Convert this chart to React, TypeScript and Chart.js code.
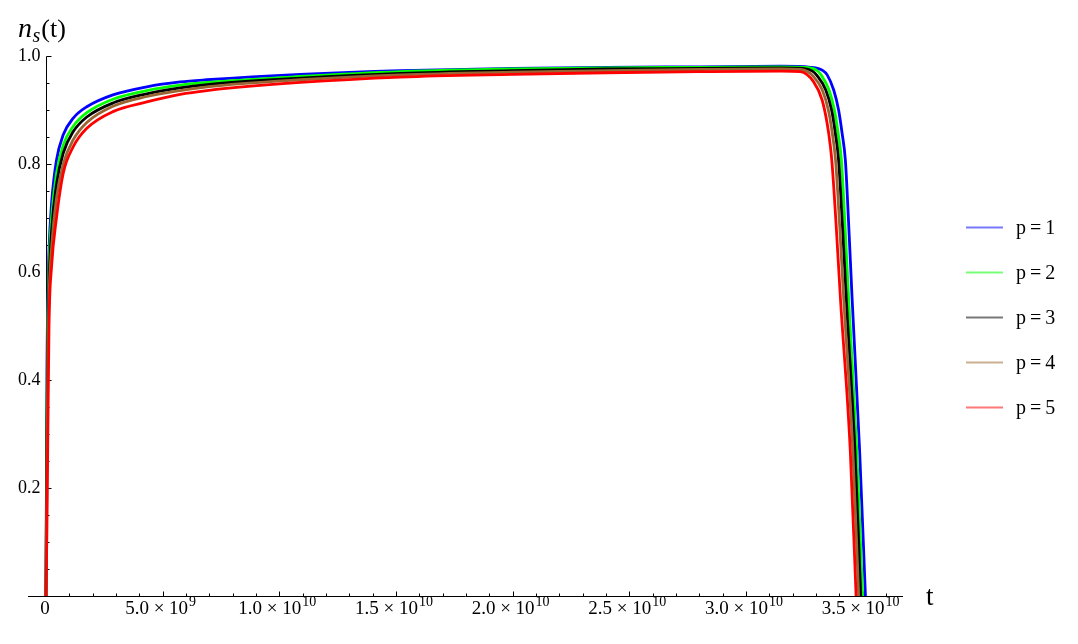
import React, { useEffect, useRef } from "react";
import { Chart, registerables } from "chart.js";

Chart.register(...registerables);

// time values are in units of 1e9
const riseT = [0, 0.04, 0.08, 0.13, 0.24, 0.45, 0.74, 1.17, 1.75, 2.87, 4.32, 5.75, 6.9, 10.9, 15.2, 20, 24, 28, 31.5];

const p1Rise = [0, 0.4, 0.55, 0.64, 0.727, 0.807, 0.854, 0.885, 0.906, 0.928, 0.943, 0.952, 0.956, 0.966, 0.973, 0.977, 0.979, 0.98, 0.981];
const p2Rise = [0, 0.35, 0.51, 0.61, 0.7, 0.782, 0.835, 0.87, 0.895, 0.92, 0.936, 0.946, 0.951, 0.962, 0.971, 0.976, 0.978, 0.979, 0.98];
const p3Rise = [0, 0.3, 0.47, 0.58, 0.675, 0.762, 0.82, 0.86, 0.887, 0.913, 0.93, 0.941, 0.947, 0.959, 0.968, 0.973, 0.976, 0.977, 0.978];
const p4Rise = [0, 0.22, 0.43, 0.55, 0.645, 0.737, 0.8, 0.845, 0.877, 0.907, 0.925, 0.936, 0.943, 0.956, 0.965, 0.97, 0.973, 0.975, 0.976];
const p5Rise = [0, 0.12, 0.3, 0.5, 0.61, 0.7, 0.783, 0.832, 0.866, 0.897, 0.915, 0.929, 0.936, 0.951, 0.961, 0.966, 0.969, 0.971, 0.972];

const p1FallT = [32.76, 33.3, 33.48, 33.76, 33.97, 34.12, 34.26, 34.4, 34.55, 34.87, 35.12];
const p1FallN = [0.979, 0.973, 0.965, 0.937, 0.9, 0.857, 0.807, 0.69, 0.55, 0.27, 0];
const p2FallT = [32.6, 33.05, 33.22, 33.56, 33.79, 33.95, 34.09, 34.24, 34.4, 34.75, 35.0];
const p2FallN = [0.979, 0.973, 0.965, 0.937, 0.9, 0.857, 0.807, 0.69, 0.55, 0.27, 0];
const p3FallT = [32.45, 32.85, 33.04, 33.42, 33.67, 33.83, 33.97, 34.13, 34.3, 34.67, 34.92];
const p3FallN = [0.977, 0.972, 0.964, 0.937, 0.9, 0.857, 0.807, 0.69, 0.55, 0.27, 0];
const p4FallT = [32.35, 32.65, 32.85, 33.27, 33.53, 33.7, 33.84, 34.01, 34.19, 34.58, 34.83];
const p4FallN = [0.975, 0.971, 0.964, 0.937, 0.9, 0.857, 0.807, 0.69, 0.55, 0.27, 0];
const p5FallT = [32.33, 32.9, 33.26, 33.48, 33.62, 33.69, 33.86, 34.05, 34.47, 34.72];
const p5FallN = [0.971, 0.952, 0.919, 0.875, 0.832, 0.801, 0.69, 0.55, 0.27, 0];

const seriesLabels = ["p=1", "p=2", "p=3", "p=4", "p=5"];
const seriesColors = ["#0000FF", "#00FF00", "#000000", "#996633", "#FF0000"];
const legendColors = ["#7878FF", "#78FF78", "#787878", "#CBAF93", "#FF7878"];

const xMajorTicks = [0, 5, 10, 15, 20, 25, 30, 35];
const xTickMantissa = ["0", "5.0", "1.0", "1.5", "2.0", "2.5", "3.0", "3.5"];
const xTickExponent = ["", "9", "10", "10", "10", "10", "10", "10"];
const yMajorTicks = [0.2, 0.4, 0.6, 0.8, 1.0];
const yTickLabels = ["0.2", "0.4", "0.6", "0.8", "1.0"];

const FONT = "'Liberation Serif', 'DejaVu Serif', serif";

function buildPoints(rise: number[], fallT: number[], fallN: number[]) {
  const pts = riseT.map((t, i) => ({ x: t, y: rise[i] }));
  fallT.forEach((t, i) => pts.push({ x: t, y: fallN[i] }));
  return pts;
}

const axesPlugin = {
  id: "mmaAxes",
  beforeDatasetsDraw(chart: any) {
    const { ctx, chartArea, scales } = chart;
    const xs = scales.x;
    const ys = scales.y;
    const ax = Math.round(xs.getPixelForValue(0)) + 0.5;
    const ay = Math.round(ys.getPixelForValue(0)) + 0.5;
    const yTop = Math.round(ys.getPixelForValue(1)) + 0.5;
    ctx.save();
    ctx.strokeStyle = "#000";
    ctx.lineWidth = 1;
    ctx.beginPath();
    ctx.moveTo(chartArea.left, ay);
    ctx.lineTo(chartArea.right, ay);
    ctx.moveTo(ax, ay);
    ctx.lineTo(ax, yTop);
    // x ticks
    for (let i = 1; i <= 36; i++) {
      const px = Math.round(xs.getPixelForValue(i)) + 0.5;
      const len = i % 5 === 0 ? 5 : 3;
      ctx.moveTo(px, ay);
      ctx.lineTo(px, ay - len);
    }
    // y ticks
    for (let j = 1; j <= 20; j++) {
      const v = j * 0.05;
      const py = Math.round(ys.getPixelForValue(v)) + 0.5;
      const len = j % 4 === 0 ? 5 : 3;
      ctx.moveTo(ax, py);
      ctx.lineTo(ax + len, py);
    }
    ctx.stroke();

    // y tick labels
    ctx.fillStyle = "#000";
    ctx.font = `18px ${FONT}`;
    ctx.textAlign = "right";
    ctx.textBaseline = "middle";
    yMajorTicks.forEach((v, i) => {
      ctx.fillText(yTickLabels[i], ax - 6, ys.getPixelForValue(v) + 0.5);
    });

    // x tick labels
    ctx.textBaseline = "alphabetic";
    ctx.textAlign = "left";
    const baseY = ay + 17;
    xMajorTicks.forEach((v, i) => {
      const px = xs.getPixelForValue(v);
      const mant = xTickMantissa[i];
      const exp = xTickExponent[i];
      ctx.font = `19px ${FONT}`;
      if (!exp) {
        const w = ctx.measureText(mant).width;
        ctx.fillText(mant, px - w / 2 - 1, baseY);
        return;
      }
      const base = `${mant} \u00D7 10`;
      const wBase = ctx.measureText(base).width;
      ctx.font = `14px ${FONT}`;
      const wExp = ctx.measureText(exp).width;
      const total = wBase + wExp + 1;
      const start = px - total / 2 - 2;
      ctx.font = `19px ${FONT}`;
      ctx.fillText(base, start, baseY);
      ctx.font = `14px ${FONT}`;
      ctx.fillText(exp, start + wBase + 1, baseY - 8);
    });
    ctx.restore();
  },
  afterDraw(chart: any) {
    const { ctx } = chart;
    ctx.save();
    ctx.fillStyle = "#000";
    ctx.textAlign = "left";
    ctx.textBaseline = "alphabetic";
    // y-axis title n_s(t)
    ctx.font = `italic 28px ${FONT}`;
    ctx.fillText("n", 18, 36.5);
    const wn = ctx.measureText("n").width;
    ctx.font = `italic 20px ${FONT}`;
    ctx.fillText("s", 18 + wn + 0.5, 41.5);
    const ws = ctx.measureText("s").width;
    ctx.font = `26px ${FONT}`;
    ctx.fillText("(t)", 18 + wn + ws + 1.5, 36.5);
    // x-axis title
    ctx.font = `27px ${FONT}`;
    ctx.fillText("t", 926, 605);

    // legend
    const lx0 = 966;
    const lx1 = 1003;
    seriesLabels.forEach((lab, i) => {
      const ly = 227.5 + i * 45;
      ctx.strokeStyle = legendColors[i];
      ctx.lineWidth = 2;
      ctx.beginPath();
      ctx.moveTo(lx0, ly);
      ctx.lineTo(lx1, ly);
      ctx.stroke();
      ctx.font = `20px ${FONT}`;
      ctx.fillStyle = "#000";
      ctx.textBaseline = "middle";
      (ctx as any).letterSpacing = "4px";
      ctx.fillText(lab, 1016, ly + 1);
      (ctx as any).letterSpacing = "0px";
    });
    ctx.restore();
  },
};

export default function App() {
  const canvasRef = useRef<HTMLCanvasElement | null>(null);

  useEffect(() => {
    if (!canvasRef.current) return;
    const rises = [p1Rise, p2Rise, p3Rise, p4Rise, p5Rise];
    const fallTs = [p1FallT, p2FallT, p3FallT, p4FallT, p5FallT];
    const fallNs = [p1FallN, p2FallN, p3FallN, p4FallN, p5FallN];
    const datasets = seriesLabels.map((lab, i) => ({
      label: lab,
      data: buildPoints(rises[i], fallTs[i], fallNs[i]),
      borderColor: seriesColors[i],
      backgroundColor: seriesColors[i],
      borderWidth: 2.8,
      pointRadius: 0,
      fill: false,
      cubicInterpolationMode: "monotone" as const,
      clip: false as any,
      order: 4 - i,
    }));

    const chart = new Chart(canvasRef.current, {
      type: "line",
      data: { datasets },
      plugins: [axesPlugin],
      options: {
        animation: false,
        responsive: false,
        maintainAspectRatio: false,
        layout: { padding: { top: 56, right: 175, left: 0, bottom: 0 } },
        plugins: { legend: { display: false }, tooltip: { enabled: false }, title: { display: false } },
        scales: {
          x: {
            type: "linear",
            min: -0.77,
            max: 36.73,
            grid: { display: false },
            border: { display: false },
            ticks: { display: false },
            afterFit: (s: any) => {
              s.height = 48;
            },
          },
          y: {
            type: "linear",
            min: 0,
            max: 1,
            grid: { display: false },
            border: { display: false },
            ticks: { display: false },
            afterFit: (s: any) => {
              s.width = 28;
            },
          },
        },
      },
    });
    return () => chart.destroy();
  }, []);

  return (
    <div style={{ position: "fixed", left: 0, top: 0, width: 1078, height: 644, background: "#fff" }}>
      <canvas ref={canvasRef} width={1078} height={644} style={{ display: "block" }} />
    </div>
  );
}
